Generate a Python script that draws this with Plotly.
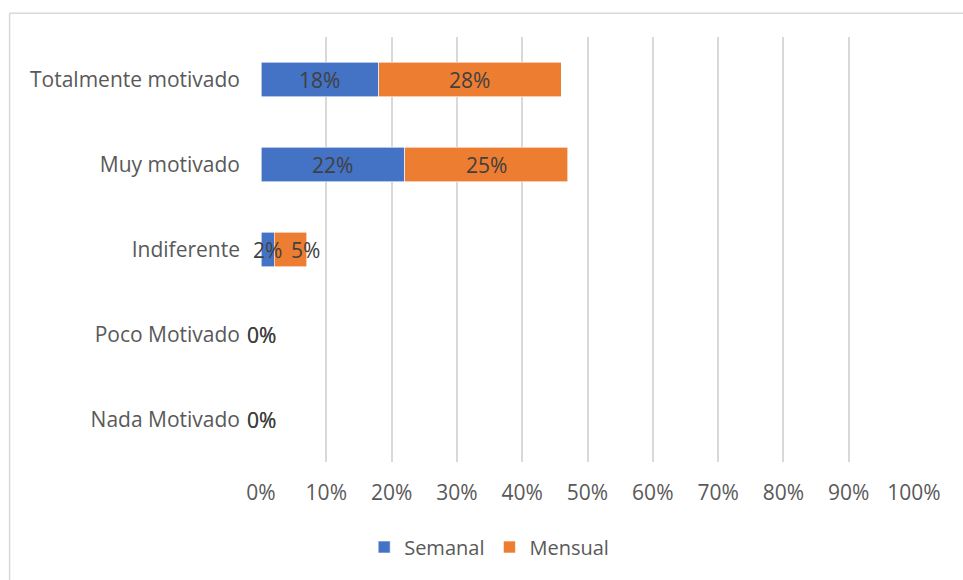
import plotly.graph_objects as go

# Motivation levels (top to bottom as displayed)
categories = ["Totalmente motivado", "Muy motivado", "Indiferente", "Poco Motivado", "Nada Motivado"]
semanal = [18, 22, 2, 0, 0]
mensual = [28, 25, 5, 0, 0]
tick_values = [0, 10, 20, 30, 40, 50, 60, 70, 80, 90, 100]
tick_labels = [f"{v}%" for v in tick_values]

BLUE = "#4472C4"
ORANGE = "#ED7D31"
FONT = "Open Sans"
SIZE = 21

PLOT_W = 963 - 260.5 - 49          # plot-area width in px
PX_PER_UNIT = PLOT_W / 100.0
LABEL_W = 30                       # approximate width of a "NN%" label in px

fig = go.Figure()
fig.add_trace(go.Bar(y=categories, x=semanal, name="Semanal", orientation="h",
                     marker=dict(color=BLUE, line=dict(color="white", width=0.6)),
                     hoverinfo="x+y"))
fig.add_trace(go.Bar(y=categories, x=mensual, name="Mensual", orientation="h",
                     marker=dict(color=ORANGE, line=dict(color="white", width=0.6)),
                     hoverinfo="x+y"))

# Value labels centred on each segment; when two non-zero labels would
# collide, the second one is nudged to the right.
annotations = []
for cat, s, m in zip(categories, semanal, mensual):
    c1 = s / 2
    c2 = s + m / 2
    shift = 0
    if s > 0 and m > 0:
        gap_px = (c2 - c1) * PX_PER_UNIT
        if gap_px < LABEL_W + 8:
            shift = LABEL_W + 8 - gap_px
    for x, v, xs in ((c1, s, 0), (c2, m, shift)):
        annotations.append(dict(
            x=x, y=cat, xref="x", yref="y", text=f"{v}%", showarrow=False,
            xshift=xs, font=dict(family=FONT, size=SIZE, color="#404040"),
        ))

fig.update_layout(
    width=963, height=580,
    barmode="stack", bargap=0.59,
    paper_bgcolor="white", plot_bgcolor="white",
    margin=dict(l=260.5, r=49, t=37, b=118),
    font=dict(family=FONT, size=SIZE, color="#595959"),
    xaxis=dict(range=[0, 100], tickvals=tick_values, ticktext=tick_labels,
               showgrid=True, gridcolor="#D9D9D9", gridwidth=2,
               zeroline=False, showline=False, ticks="", ticklabelstandoff=16,
               fixedrange=True),
    yaxis=dict(categoryorder="array", categoryarray=categories[::-1],
               showgrid=False, zeroline=False, showline=False, ticks="",
               ticklabelstandoff=20, fixedrange=True),
    legend=dict(orientation="h", x=0.158, xanchor="left", y=-0.2, yanchor="middle",
                font=dict(family=FONT, size=20, color="#595959"),
                itemwidth=30, traceorder="normal"),
    annotations=annotations,
    shapes=[
        dict(type="line", xref="paper", yref="paper", x0=-0.385, x1=1.2, y0=1.056, y1=1.056,
             line=dict(color="#D9D9D9", width=1.5)),
        dict(type="line", xref="paper", yref="paper", x0=-0.385, x1=-0.385, y0=1.056, y1=-0.4,
             line=dict(color="#D9D9D9", width=1.5)),
    ],
)

fig.write_html("out.html")
